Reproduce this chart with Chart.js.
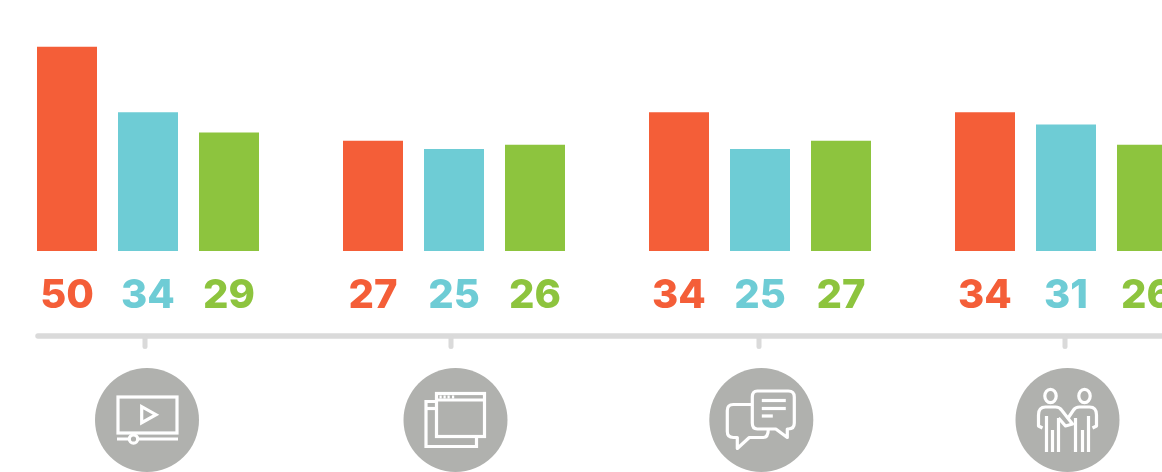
<!DOCTYPE html>
<html>
<head>
<meta charset="utf-8">
<style>
  html, body { margin: 0; padding: 0; background: #fff; overflow: hidden; }
  #wrap { position: relative; width: 1162px; height: 472px; overflow: hidden; }
  #chart { position: absolute; left: -5px; top: 0; }
</style>
<script src="https://cdn.jsdelivr.net/npm/chart.js@4/dist/chart.umd.min.js"></script>
</head>
<body>
<div id="wrap"><canvas id="chart" width="1224" height="472"></canvas></div>
<script>
const categories = ['Video', 'Web', 'Chat', 'People'];
const orangeValues = [50, 27, 34, 34];
const tealValues = [34, 25, 25, 31];
const greenValues = [29, 26, 27, 26];

const ORANGE = '#f45e38';
const TEAL = '#6eccd5';
const GREEN = '#8dc43e';
const AXIS_GREY = '#dadada';
const ICON_GREY = '#b0b1ae';

// the rail ticks and circles are not quite on the group centres in the original
const tickShift = [-3, -3, -1, -1];
const iconShift = [-1, 1.5, 1.3, 1.5];

// small helper, all icons are white outlines around 0,0 of their circle
function line(ctx, pts) {
  ctx.beginPath();
  pts.forEach((p, i) => i ? ctx.lineTo(p[0], p[1]) : ctx.moveTo(p[0], p[1]));
  ctx.stroke();
}

function videoIcon(ctx) {
  ctx.strokeRect(-29, -23, 59, 36);
  ctx.lineJoin = 'miter';
  ctx.beginPath();
  ctx.moveTo(-5.3, -13.3);
  ctx.lineTo(-5.3, 2.7);
  ctx.lineTo(9, -5.3);
  ctx.closePath();
  ctx.stroke();
  line(ctx, [[-30, 19], [31, 19]]);
  ctx.beginPath();
  ctx.arc(-13.5, 19, 4.2, 0, Math.PI * 2);
  ctx.fillStyle = ICON_GREY;
  ctx.fill();
  ctx.stroke();
}

function windowsIcon(ctx) {
  ctx.strokeRect(-19, -26.5, 48, 43);
  line(ctx, [[-19, -20], [29, -20]]);
  line(ctx, [[-19.5, -18.5], [-29.5, -18.5], [-29.5, 26.5], [21, 26.5], [21, 16.5]]);
  line(ctx, [[-29.5, -11.5], [-19.5, -11.5]]);
  ctx.fillStyle = '#fff';
  [-16, -12, -8, -3.5].forEach(x => ctx.fillRect(x, -24.5, 2.2, 3));
}

function chatIcon(ctx) {
  ctx.lineJoin = 'round';
  // front bubble
  ctx.beginPath();
  ctx.moveTo(-4, -29);
  ctx.lineTo(27, -29);
  ctx.quadraticCurveTo(33, -29, 33, -23);
  ctx.lineTo(33, 3);
  ctx.quadraticCurveTo(33, 9, 27, 9);
  ctx.lineTo(26, 9);
  ctx.lineTo(26, 17.5);
  ctx.lineTo(14.5, 9);
  ctx.lineTo(-4, 9);
  ctx.quadraticCurveTo(-9, 9, -9, 3);
  ctx.lineTo(-9, -23);
  ctx.quadraticCurveTo(-9, -29, -4, -29);
  ctx.stroke();
  line(ctx, [[0.5, -19.5], [24.5, -19.5]]);
  line(ctx, [[0.5, -11.5], [24.5, -11.5]]);
  line(ctx, [[0.5, -4], [11.5, -4]]);
  // back bubble
  ctx.beginPath();
  ctx.moveTo(-9, -15.5);
  ctx.lineTo(-28, -15.5);
  ctx.quadraticCurveTo(-34, -15.5, -34, -9.5);
  ctx.lineTo(-34, 11.5);
  ctx.quadraticCurveTo(-34, 17.5, -28, 17.5);
  ctx.lineTo(-24, 17.5);
  ctx.lineTo(-24, 28.5);
  ctx.lineTo(-12, 17.5);
  ctx.lineTo(2, 17.5);
  ctx.quadraticCurveTo(7, 17.5, 7, 9);
  ctx.stroke();
}

function peopleIcon(ctx) {
  ctx.lineJoin = 'round';
  [-17, 17].forEach(x => {
    ctx.beginPath();
    ctx.ellipse(x, -24, 5.7, 6.7, 0, 0, Math.PI * 2);
    ctx.stroke();
  });
  // left person
  ctx.beginPath();
  ctx.moveTo(-25, 8);
  ctx.lineTo(-29, 6);
  ctx.lineTo(-29, -5);
  ctx.quadraticCurveTo(-29, -13, -22, -13);
  ctx.lineTo(-12, -13);
  ctx.quadraticCurveTo(-8, -13, -6, -10);
  ctx.lineTo(5, 4);
  ctx.lineTo(-2, 6);
  ctx.lineTo(-9, -2);
  ctx.stroke();
  line(ctx, [[-9, -2], [-9, 32]]);
  line(ctx, [[-21, -4], [-21, 32]]);
  line(ctx, [[-15, 10], [-15, 32]]);
  // right person
  ctx.beginPath();
  ctx.moveTo(25, 8);
  ctx.lineTo(29, 6);
  ctx.lineTo(29, -5);
  ctx.quadraticCurveTo(29, -13, 22, -13);
  ctx.lineTo(12, -13);
  ctx.quadraticCurveTo(8, -13, 6, -10);
  ctx.lineTo(0, -1);
  ctx.stroke();
  line(ctx, [[8, -2], [8, 32]]);
  line(ctx, [[21, -4], [21, 32]]);
  line(ctx, [[15, 10], [15, 32]]);
}

const icons = [videoIcon, windowsIcon, chatIcon, peopleIcon];

// numbers under the bars
const valueLabels = {
  id: 'valueLabels',
  afterDatasetsDraw(chart) {
    const ctx = chart.ctx;
    ctx.save();
    ctx.font = '800 40px Inter';
    ctx.textAlign = 'center';
    ctx.textBaseline = 'middle';
    chart.data.datasets.forEach((ds, i) => {
      ctx.fillStyle = ds.backgroundColor;
      chart.getDatasetMeta(i).data.forEach((bar, j) => {
        ctx.fillText(ds.data[j], bar.x, 296);
      });
    });
    ctx.restore();
  }
};

// grey rail with ticks and the icon circles below it
const rail = {
  id: 'rail',
  afterDraw(chart) {
    const ctx = chart.ctx;
    const x = chart.scales.x;
    ctx.save();
    ctx.strokeStyle = AXIS_GREY;
    ctx.lineCap = 'round';
    ctx.lineWidth = 5.5;
    line(ctx, [[43, 336], [chart.width + 10, 336]]);
    categories.forEach((c, i) => {
      const px = x.getPixelForValue(i);
      ctx.lineWidth = 5;
      ctx.strokeStyle = AXIS_GREY;
      line(ctx, [[px + tickShift[i], 338], [px + tickShift[i], 346.5]]);

      ctx.save();
      ctx.translate(px + iconShift[i], 420);
      ctx.fillStyle = ICON_GREY;
      ctx.beginPath();
      ctx.arc(0, 0, 52, 0, Math.PI * 2);
      ctx.fill();
      ctx.strokeStyle = '#fff';
      ctx.lineWidth = 3.2;
      ctx.lineCap = 'butt';
      icons[i](ctx);
      ctx.restore();
      ctx.lineCap = 'round';
    });
    ctx.restore();
  }
};

new Chart(document.getElementById('chart'), {
  type: 'bar',
  data: {
    labels: categories,
    datasets: [
      { label: 'Orange', data: orangeValues, backgroundColor: ORANGE },
      { label: 'Teal', data: tealValues, backgroundColor: TEAL },
      { label: 'Green', data: greenValues, backgroundColor: GREEN }
    ]
  },
  options: {
    responsive: false,
    animation: false,
    layout: { padding: { top: 6, bottom: 221, left: 0, right: 0 } },
    categoryPercentage: 243 / 306,
    barPercentage: 60 / 81,
    plugins: { legend: { display: false }, tooltip: { enabled: false } },
    scales: {
      x: { display: false },
      y: { display: false, min: 0, max: 60 }
    }
  },
  plugins: [valueLabels, rail]
});
</script>
</body>
</html>
